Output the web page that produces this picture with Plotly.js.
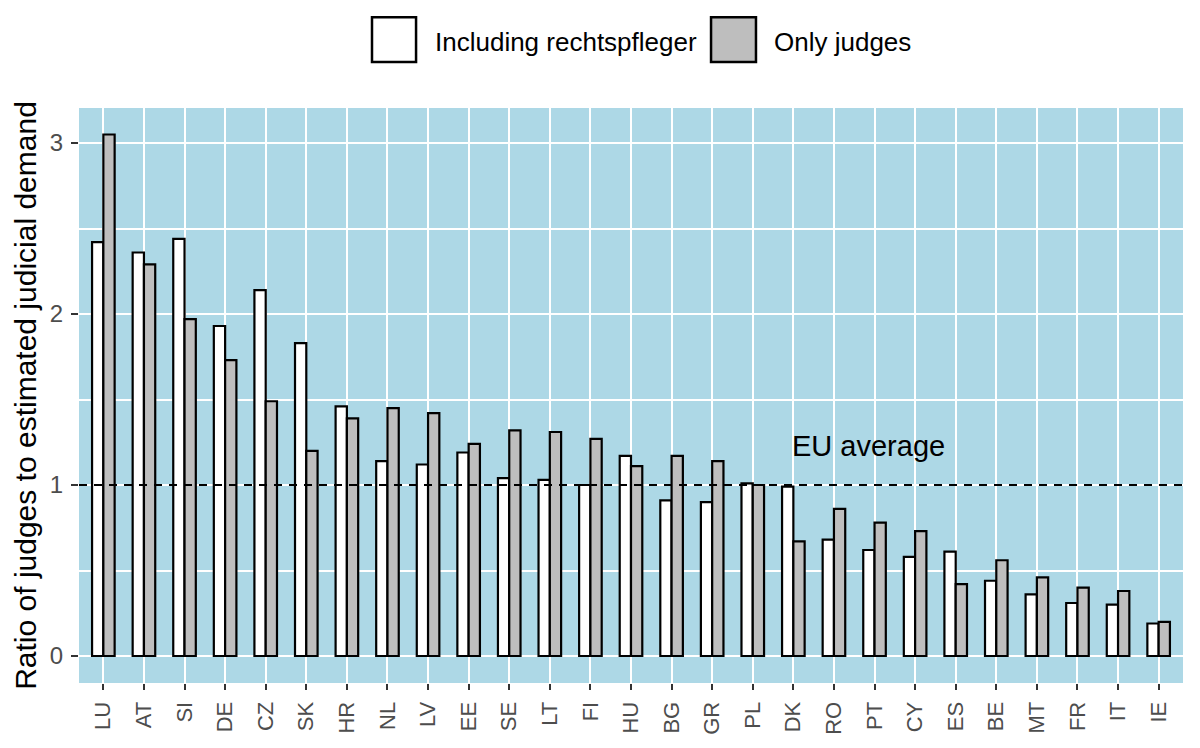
<!DOCTYPE html>
<html>
<head>
<meta charset="utf-8">
<script src="https://cdn.plot.ly/plotly-3.0.1.min.js"></script>
<style>
  html, body { margin: 0; padding: 0; background: #fff; }
  #chart { width: 1200px; height: 748px; }
</style>
</head>
<body>
<div id="chart"></div>
<script>
// countries, ordered as in the figure
var countries = ["LU", "AT", "SI", "DE", "CZ", "SK", "HR", "NL", "LV", "EE", "SE", "LT", "FI",
                 "HU", "BG", "GR", "PL", "DK", "RO", "PT", "CY", "ES", "BE", "MT", "FR", "IT", "IE"];

// ratio of judges to estimated judicial demand
var incl_rechtspfleger = [2.42, 2.36, 2.44, 1.93, 2.14, 1.83, 1.46, 1.14, 1.12, 1.19, 1.04, 1.03, 1.00,
                          1.17, 0.91, 0.90, 1.01, 0.99, 0.68, 0.62, 0.58, 0.61, 0.44, 0.36, 0.31, 0.30, 0.19];
var only_judges = [3.05, 2.29, 1.97, 1.73, 1.49, 1.20, 1.39, 1.45, 1.42, 1.24, 1.32, 1.31, 1.27,
                   1.11, 1.17, 1.14, 1.00, 0.67, 0.86, 0.78, 0.73, 0.42, 0.56, 0.46, 0.40, 0.38, 0.20];

var eu_average = 1;
var legend_labels = ["Including rechtspfleger", "Only judges"];

var fnt = "Liberation Sans, Arial, sans-serif";

var trace1 = {
  x: countries,
  y: incl_rechtspfleger,
  name: legend_labels[0],
  type: 'bar',
  marker: {color: '#ffffff', line: {color: '#000000', width: 2.2}},
  hoverinfo: 'x+y'
};

var trace2 = {
  x: countries,
  y: only_judges,
  name: legend_labels[1],
  type: 'bar',
  marker: {color: '#bebebe', line: {color: '#000000', width: 2.2}},
  hoverinfo: 'x+y'
};

var layout = {
  width: 1200,
  height: 748,
  margin: {l: 79, r: 17, t: 108, b: 65},
  paper_bgcolor: '#ffffff',
  plot_bgcolor: '#add8e6',
  barmode: 'group',
  bargap: 0.444,
  bargroupgap: 0,
  showlegend: false,
  font: {family: fnt, color: '#000000'},
  xaxis: {
    type: 'category',
    range: [-0.6, 26.6],
    showgrid: true,
    gridcolor: '#ffffff',
    gridwidth: 2,
    zeroline: false,
    showline: false,
    ticks: 'outside',
    ticklen: 6,
    tickwidth: 2,
    tickcolor: '#333333',
    tickangle: -90,
    ticklabelstandoff: 3,
    tickfont: {family: fnt, size: 22, color: '#4d4d4d'}
  },
  yaxis: {
    range: [-0.158, 3.205],
    tickvals: [0, 1, 2, 3],
    ticktext: ["0", "1", "2", "3"],
    showgrid: true,
    gridcolor: '#ffffff',
    gridwidth: 2,
    minor: {dtick: 0.5, tick0: 0.5, showgrid: true, gridcolor: '#ffffff', gridwidth: 1.5},
    zeroline: false,
    showline: false,
    ticks: 'outside',
    ticklen: 7,
    tickwidth: 2,
    tickcolor: '#333333',
    ticklabelstandoff: 3,
    tickfont: {family: fnt, size: 24, color: '#4d4d4d'},
    title: {
      text: "Ratio of judges to estimated judicial demand",
      font: {family: fnt, size: 30, color: '#000000'},
      standoff: 4
    }
  },
  shapes: [
    // EU average line
    {type: 'line', xref: 'paper', x0: 0, x1: 1, yref: 'y', y0: eu_average, y1: eu_average,
     line: {color: '#000000', width: 1.8, dash: '8px,7px'}, layer: 'above'},
    // legend keys
    {type: 'rect', xref: 'paper', yref: 'paper', x0: 0.2654, x1: 0.3053, y0: 1.08, y1: 1.158,
     fillcolor: '#ffffff', line: {color: '#000000', width: 2.5}},
    {type: 'rect', xref: 'paper', yref: 'paper', x0: 0.5725, x1: 0.6132, y0: 1.08, y1: 1.158,
     fillcolor: '#bebebe', line: {color: '#000000', width: 2.5}}
  ],
  annotations: [
    {x: 18.85, y: 1.23, xref: 'x', yref: 'y', text: "EU average", showarrow: false,
     xanchor: 'center', yanchor: 'middle', font: {family: fnt, size: 29, color: '#000000'}},
    {x: 0.3207, y: 1.114, xref: 'paper', yref: 'paper', text: legend_labels[0], showarrow: false,
     xanchor: 'left', yanchor: 'middle', font: {family: fnt, size: 26, color: '#000000'}},
    {x: 0.6277, y: 1.114, xref: 'paper', yref: 'paper', text: legend_labels[1], showarrow: false,
     xanchor: 'left', yanchor: 'middle', font: {family: fnt, size: 26, color: '#000000'}}
  ]
};

Plotly.newPlot('chart', [trace1, trace2], layout, {displayModeBar: false, responsive: false});
</script>
</body>
</html>
